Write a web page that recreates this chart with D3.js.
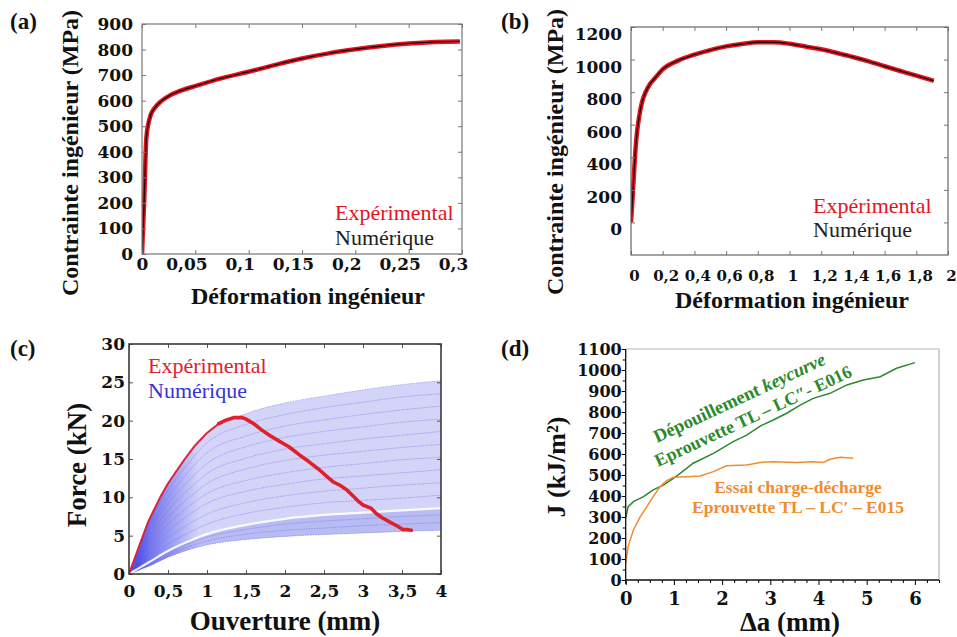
<!DOCTYPE html>
<html><head><meta charset="utf-8">
<script src="https://cdn.jsdelivr.net/npm/d3@7"></script>
<style>body{margin:0;background:#fff}svg{display:block}</style>
</head><body>
<script>
// ---------- Panel (a) ----------
const aStrain  = [0, 0.002, 0.004, 0.006, 0.008, 0.012, 0.018, 0.025, 0.035, 0.05, 0.075, 0.1, 0.125, 0.15, 0.175, 0.2, 0.225, 0.25, 0.275, 0.298];
const aStressExp = [0, 200, 450, 510, 542, 572, 598, 618, 637, 657, 688, 713, 740, 765, 785, 801, 814, 824, 830, 832];
const aStressNum = [0, 200, 450, 510, 542, 572, 598, 618, 637, 657, 688, 713, 740, 765, 785, 801, 814, 824, 830, 832];
const aXTicks = [0, 0.05, 0.1, 0.15, 0.2, 0.25, 0.3];
const aXLabels = ["0", "0,05", "0,1", "0,15", "0,2", "0,25", "0,3"];
const aYTicks = [0, 100, 200, 300, 400, 500, 600, 700, 800, 900];
const aYLabels = ["0", "100", "200", "300", "400", "500", "600", "700", "800", "900"];

// ---------- Panel (b) ----------
const bStrain = [0, 0.01, 0.02, 0.03, 0.04, 0.055, 0.07, 0.09, 0.12, 0.15, 0.2, 0.3, 0.4, 0.5, 0.6, 0.7, 0.8, 0.9, 1.0, 1.1, 1.2, 1.3, 1.4, 1.5, 1.6, 1.7, 1.8, 1.91];
const bStressExp = [0, 150, 320, 470, 570, 670, 740, 795, 850, 885, 940, 995, 1030, 1058, 1081, 1096, 1106, 1106, 1097, 1080, 1063, 1040, 1016, 989, 959, 930, 901, 870];
const bStressNum = [0, 150, 320, 470, 570, 670, 740, 795, 850, 885, 940, 995, 1030, 1058, 1081, 1096, 1106, 1106, 1097, 1080, 1063, 1040, 1016, 989, 959, 930, 901, 870];
const bXTicks = [0, 0.2, 0.4, 0.6, 0.8, 1, 1.2, 1.4, 1.6, 1.8, 2];
const bXLabels = ["0", "0,2", "0,4", "0,6", "0,8", "1", "1,2", "1,4", "1,6", "1,8", "2"];
const bYTicks = [0, 200, 400, 600, 800, 1000, 1200];
const bYLabels = ["0", "200", "400", "600", "800", "1000", "1200"];

// ---------- Panel (c) ----------
const cExpX = [0, 0.1, 0.18, 0.25, 0.4, 0.5, 0.6, 0.715, 0.85, 1.0, 1.15, 1.25, 1.35, 1.45, 1.5, 1.6, 1.7, 1.8, 1.93, 2.05, 2.19, 2.3, 2.44, 2.55, 2.62, 2.7, 2.79, 2.87, 2.95, 3.0, 3.1, 3.17, 3.25, 3.34, 3.45, 3.51, 3.56, 3.62];
const cExpF = [0, 2.8, 5.0, 6.9, 10.0, 11.8, 13.3, 15.0, 16.8, 18.4, 19.6, 20.1, 20.4, 20.4, 20.2, 19.6, 18.8, 18.1, 17.3, 16.6, 15.5, 14.7, 13.6, 12.6, 12.0, 11.6, 11.0, 10.2, 9.4, 9.0, 8.6, 7.9, 7.3, 6.8, 6.2, 5.8, 5.8, 5.7];
const cNumX = [0, 0.1, 0.25, 0.5, 0.75, 1, 1.5, 2, 2.5, 3, 3.5, 4];
const cNumCurves = [
  [0, 2.8, 6.9, 11.8, 15.4, 18.4, 20.9, 22.3, 23.2, 24.0, 24.7, 25.2],
  [0, 2.6, 6.4, 10.9, 14.3, 17.1, 19.5, 20.8, 21.7, 22.4, 23.1, 23.5],
  [0, 2.4, 5.8, 10.0, 13.2, 15.8, 18.0, 19.3, 20.1, 20.8, 21.4, 21.9],
  [0, 2.1, 5.3, 9.2, 12.0, 14.4, 16.6, 17.8, 18.6, 19.2, 19.8, 20.2],
  [0, 1.9, 4.7, 8.3, 10.9, 13.1, 15.1, 16.3, 17.0, 17.6, 18.1, 18.6],
  [0, 1.7, 4.2, 7.4, 9.8, 11.8, 13.7, 14.8, 15.5, 16.0, 16.5, 16.9],
  [0, 1.5, 3.7, 6.5, 8.7, 10.5, 12.2, 13.2, 13.9, 14.4, 14.9, 15.2],
  [0, 1.3, 3.1, 5.6, 7.6, 9.2, 10.8, 11.7, 12.4, 12.8, 13.2, 13.6],
  [0, 1.0, 2.6, 4.8, 6.4, 7.8, 9.3, 10.2, 10.8, 11.2, 11.6, 11.9],
  [0, 0.8, 2.0, 3.9, 5.3, 6.5, 7.9, 8.7, 9.3, 9.6, 9.9, 10.3],
  [0, 0.5, 1.35, 2.8, 3.9, 4.8, 5.8, 6.5, 6.9, 7.2, 7.5, 7.7],
  [0, 0.5, 1.2, 2.5, 3.5, 4.3, 5.2, 5.7, 6.0, 6.3, 6.5, 6.7],
  [0, 0.4, 1.0, 2.2, 3.1, 3.8, 4.5, 4.9, 5.15, 5.35, 5.55, 5.7]
];
const cGapF = [0, 0.6, 1.5, 3.0, 4.2, 5.2, 6.4, 7.2, 7.7, 8.0, 8.3, 8.6];
const cXTicks = [0, 0.5, 1, 1.5, 2, 2.5, 3, 3.5, 4];
const cXLabels = ["0", "0,5", "1", "1,5", "2", "2,5", "3", "3,5", "4"];
const cYTicks = [0, 5, 10, 15, 20, 25, 30];
const cYLabels = ["0", "5", "10", "15", "20", "25", "30"];

// ---------- Panel (d) ----------
const dKeyX = [0, 0.05, 0.16, 0.37, 0.57, 0.78, 0.99, 1.13, 1.4, 1.82, 2.23, 2.51, 2.79, 3.06, 3.34, 3.62, 3.89, 4.24, 4.59, 4.93, 5.28, 5.62, 6.0];
const dKeyJ = [294, 349, 373, 397, 429, 452, 484, 508, 556, 603, 659, 690, 733, 762, 794, 833, 865, 889, 929, 952, 968, 1008, 1035];
const dLoadX = [0, 0.05, 0.16, 0.3, 0.44, 0.57, 0.71, 0.85, 0.99, 1.27, 1.54, 1.82, 2.09, 2.51, 2.79, 3.06, 3.55, 3.89, 4.1, 4.24, 4.45, 4.72];
const dLoadJ = [79, 159, 238, 301, 349, 397, 444, 473, 489, 492, 495, 516, 544, 548, 560, 563, 560, 563, 560, 575, 584, 580];
const dXTicks = [0, 1, 2, 3, 4, 5, 6];
const dXLabels = ["0", "1", "2", "3", "4", "5", "6"];
const dXMinor = [0.25, 0.5, 0.75, 1.25, 1.5, 1.75, 2.25, 2.5, 2.75, 3.25, 3.5, 3.75, 4.25, 4.5, 4.75, 5.25, 5.5, 5.75, 6.25, 6.5];
const dYTicks = [0, 100, 200, 300, 400, 500, 600, 700, 800, 900, 1000, 1100];
const dYLabels = ["0", "100", "200", "300", "400", "500", "600", "700", "800", "900", "1000", "1100"];
const dYMinor = [50, 150, 250, 350, 450, 550, 650, 750, 850, 950, 1050];

// ================= drawing =================
const TF = "'Liberation Serif','Times New Roman',serif";
const NF = "'DejaVu Serif',serif";
const svg = d3.select("body").append("svg").attr("width", 957).attr("height", 637);
const defs = svg.append("defs");

function makePanel(o) {
  const x = d3.scaleLinear().domain(o.xd).range([o.l, o.r]);
  const y = d3.scaleLinear().domain(o.yd).range([o.b, o.t]);
  const g = svg.append("g");
  g.append("clipPath").attr("id", "clip" + o.id).append("rect")
    .attr("x", o.l).attr("y", o.t).attr("width", o.r - o.l).attr("height", o.b - o.t);
  const plot = g.append("g").attr("clip-path", `url(#clip${o.id})`);
  return {x, y, g, plot, o};
}

function styleText(sel, size, weight, family) {
  sel.selectAll("text").attr("font-family", family).attr("font-size", size)
    .attr("font-weight", weight).attr("fill", "#111");
}

function frameAxes(P, s) {
  const {x, y, g, o} = P;
  const tl = s.tickLen;
  const clean = sel => { sel.select(".domain").remove(); sel.selectAll(".tick line").attr("stroke", s.tickColor).attr("stroke-width", 1); };
  const bot = g.append("g").attr("transform", `translate(0,${o.b})`)
    .call(d3.axisBottom(x).tickValues(s.xt).tickSizeInner(-tl).tickSizeOuter(0).tickPadding(s.xPad).tickFormat((d, i) => s.xl[i]));
  clean(bot); styleText(bot, s.xNumSize || s.numSize, "bold", NF);
  if (s.xdx) bot.selectAll("text").attr("dx", (d, i) => s.xdx(d, i));
  const top = g.append("g").attr("transform", `translate(0,${o.t})`)
    .call(d3.axisTop(x).tickValues(s.xt).tickSizeInner(-tl).tickSizeOuter(0).tickFormat(""));
  clean(top);
  const left = g.append("g").attr("transform", `translate(${o.l},0)`)
    .call(d3.axisLeft(y).tickValues(s.yt).tickSizeInner(-tl).tickSizeOuter(0).tickPadding(s.yPad).tickFormat((d, i) => s.yl[i]));
  clean(left); styleText(left, s.numSize, "bold", NF);
  if (s.ydy) left.selectAll("text").attr("transform", `translate(0,${s.ydy})`);
  const right = g.append("g").attr("transform", `translate(${o.r},0)`)
    .call(d3.axisRight(y).tickValues(s.yt).tickSizeInner(-tl).tickSizeOuter(0).tickFormat(""));
  clean(right);
  g.append("rect").attr("x", o.l).attr("y", o.t).attr("width", o.r - o.l).attr("height", o.b - o.t)
    .attr("fill", "none").attr("stroke", s.frameColor).attr("stroke-width", s.frameWidth);
}

function label(txt, x, y, size, opts = {}) {
  const t = svg.append("text").attr("x", x).attr("y", y).text(txt)
    .attr("font-family", opts.family || TF).attr("font-size", size)
    .attr("font-weight", opts.weight || "bold").attr("fill", opts.fill || "#111")
    .attr("text-anchor", opts.anchor || "start");
  if (opts.rotate) t.attr("transform", `rotate(${opts.rotate},${x},${y})`);
  return t;
}

const RED = "#e3141d";

// ---------- (a) ----------
{
  const P = makePanel({id: "a", l: 142, r: 462, t: 24, b: 254, xd: [0, 0.3], yd: [0, 900]});
  const line = d3.line().x((d, i) => P.x(aStrain[i])).y(d => P.y(d)).curve(d3.curveMonotoneX);
  P.plot.append("path").attr("d", line(aStressExp)).attr("fill", "none").attr("stroke", RED).attr("stroke-width", 4.5);
  P.plot.append("path").attr("d", line(aStressNum)).attr("fill", "none").attr("stroke", "#2a0a0a").attr("stroke-width", 1.4);
  frameAxes(P, {xt: aXTicks, xl: aXLabels, yt: aYTicks, yl: aYLabels, tickLen: 4, tickColor: "#777",
    frameColor: "#777", frameWidth: 1.2, xPad: 4, yPad: 9, numSize: 17, xdx: d => d === 0 ? 0 : -9});
  label("(a)", 10, 29, 23);
  label("Déformation ingénieur", 308, 304, 24, {anchor: "middle"});
  label("Contrainte ingénieur (MPa)", 78, 153, 24, {anchor: "middle", rotate: -90});
  label("Expérimental", 335, 220, 22, {weight: "normal", fill: RED});
  label("Numérique", 335, 245, 22, {weight: "normal", fill: "#222"});
}

// ---------- (b) ----------
{
  const P = makePanel({id: "b", l: 631, r: 948, t: 27, b: 255, xd: [0, 2], yd: [-200, 1200]});
  const line = d3.line().x((d, i) => P.x(bStrain[i])).y(d => P.y(d)).curve(d3.curveMonotoneX);
  P.plot.append("path").attr("d", line(bStressExp)).attr("fill", "none").attr("stroke", RED).attr("stroke-width", 4.5);
  P.plot.append("path").attr("d", line(bStressNum)).attr("fill", "none").attr("stroke", "#2a0a0a").attr("stroke-width", 1.4);
  frameAxes(P, {xt: bXTicks, xl: bXLabels, yt: bYTicks, yl: bYLabels, tickLen: 4, tickColor: "#777",
    frameColor: "#666", frameWidth: 1.2, xPad: 15, yPad: 9, numSize: 17, xNumSize: 15, ydy: 7, xdx: d => 3});
  label("(b)", 501, 29, 23);
  label("Déformation ingénieur", 792, 308, 24, {anchor: "middle"});
  label("Contrainte ingénieur (MPa)", 563, 152, 24, {anchor: "middle", rotate: -90});
  label("Expérimental", 813, 213, 22, {weight: "normal", fill: RED});
  label("Numérique", 813, 237, 22, {weight: "normal", fill: "#222"});
}

// ---------- (c) ----------
{
  const P = makePanel({id: "c", l: 129, r: 441, t: 344, b: 574, xd: [0, 4], yd: [0, 30]});
  const grad = (id, end) => {
    const lg = defs.append("linearGradient").attr("id", id).attr("gradientUnits", "userSpaceOnUse")
      .attr("x1", P.x(0)).attr("y1", 0).attr("x2", P.x(0.9)).attr("y2", 0);
    lg.append("stop").attr("offset", 0).attr("stop-color", "#2f2fe8");
    lg.append("stop").attr("offset", 0.3).attr("stop-color", "#7476ee");
    lg.append("stop").attr("offset", 1).attr("stop-color", end);
  };
  grad("fanUp", "#d3d4f7");
  grad("fanLow", "#b9bbf3");
  const line = d3.line().x((d, i) => P.x(cNumX[i])).y(d => P.y(d)).curve(d3.curveMonotoneX);
  const top = cNumCurves[0], bottom = cNumCurves[cNumCurves.length - 1];
  const area = d3.area().x((d, i) => P.x(cNumX[i])).y0((d, i) => P.y(bottom[i])).y1(d => P.y(d)).curve(d3.curveMonotoneX);
  P.plot.append("path").attr("d", area(top)).attr("fill", "url(#fanUp)");
  P.plot.append("path").attr("d", area(cGapF)).attr("fill", "url(#fanLow)");
  cNumCurves.forEach(c => {
    P.plot.append("path").attr("d", line(c)).attr("fill", "none").attr("stroke", "#6c6eee")
      .attr("stroke-width", 0.9).attr("stroke-opacity", 0.55).attr("stroke-dasharray", "1.6,1");
  });
  P.plot.append("path").attr("d", line(cGapF)).attr("fill", "none").attr("stroke", "#fff").attr("stroke-width", 2.2).attr("stroke-opacity", 0.9);
  const pts = cExpX.map((v, i) => [v, cExpF[i]]);
  const eline = d3.line().x(d => P.x(d[0])).y(d => P.y(d[1])).curve(d3.curveLinear);
  // rising branch (thin, overlapping the numerical envelope) and post-peak branch (thick)
  P.plot.append("path").attr("d", eline(pts)).attr("fill", "none").attr("stroke", "#d8243c").attr("stroke-width", 2).attr("stroke-linejoin", "round");
  P.plot.append("path").attr("d", eline(pts.filter(d => d[0] >= 1.15))).attr("fill", "none").attr("stroke", "#e0202a").attr("stroke-width", 3.6).attr("stroke-linejoin", "round").attr("stroke-linecap", "round");
  frameAxes(P, {xt: cXTicks, xl: cXLabels, yt: cYTicks, yl: cYLabels, tickLen: 4, tickColor: "#555",
    frameColor: "#3a3a3a", frameWidth: 1.6, xPad: 11, yPad: 4, numSize: 17});
  label("(c)", 10, 356, 23);
  label("Ouverture (mm)", 285, 630, 27, {anchor: "middle"});
  label("Force (kN)", 86, 465, 27, {anchor: "middle", rotate: -90});
  label("Expérimental", 148, 373, 22, {weight: "normal", fill: "#e0202a"});
  label("Numérique", 148, 398, 22, {weight: "normal", fill: "#3434dc"});
}

// ---------- (d) ----------
{
  const P = makePanel({id: "d", l: 625.7, r: 939, t: 349, b: 580, xd: [0, 6.5], yd: [0, 1100]});
  const {x, y, g} = P;
  g.append("path").attr("d", `M${x(0)},${y(1100)}H${x(6.5)}V${y(0)}`).attr("fill", "none").attr("stroke", "#b5b5b5").attr("stroke-width", 1.2);
  const gl = d3.line().x((d, i) => x(dKeyX[i])).y(d => y(d));
  P.plot.append("path").attr("d", gl(dKeyJ)).attr("fill", "none").attr("stroke", "#2a8a2a").attr("stroke-width", 1.5);
  const ol = d3.line().x((d, i) => x(dLoadX[i])).y(d => y(d));
  P.plot.append("path").attr("d", ol(dLoadJ)).attr("fill", "none").attr("stroke", "#f08c30").attr("stroke-width", 1.5);
  const bot = g.append("g").attr("transform", `translate(0,${y(0)})`)
    .call(d3.axisBottom(x).tickValues(dXTicks).tickSizeInner(5).tickSizeOuter(0).tickPadding(7).tickFormat((d, i) => dXLabels[i]));
  bot.select(".domain").attr("d", `M${x(0)},0H${x(6.5)}`).attr("stroke", "#111").attr("stroke-width", 1.3);
  styleText(bot, 18, "bold", NF);
  const botm = g.append("g").attr("transform", `translate(0,${y(0)})`)
    .call(d3.axisBottom(x).tickValues(dXMinor).tickSizeInner(3).tickSizeOuter(0).tickFormat(""));
  botm.select(".domain").remove();
  const left = g.append("g").attr("transform", `translate(${x(0)},0)`)
    .call(d3.axisLeft(y).tickValues(dYTicks).tickSizeInner(4).tickSizeOuter(0).tickPadding(0).tickFormat((d, i) => dYLabels[i]));
  left.select(".domain").attr("d", `M0,${y(0) + 4}V${y(1100)}`).attr("stroke", "#111").attr("stroke-width", 1.3);
  styleText(left, 16, "bold", NF);
  const leftm = g.append("g").attr("transform", `translate(${x(0)},0)`)
    .call(d3.axisLeft(y).tickValues(dYMinor).tickSizeInner(3).tickSizeOuter(0).tickFormat(""));
  leftm.select(".domain").remove();
  label("(d)", 501, 356, 23);
  label("Δa (mm)", 790, 631, 27, {anchor: "middle"});
  label("J (kJ/m²)", 565, 467, 26, {anchor: "middle", rotate: -90});
  const t1 = svg.append("text").attr("x", 657).attr("y", 443).attr("transform", "rotate(-25,657,443)")
    .attr("font-family", TF).attr("font-size", 18.5).attr("font-weight", "bold").attr("fill", "#2a8a2a");
  t1.append("tspan").text("Dépouillement ");
  t1.append("tspan").attr("font-style", "italic").text("keycurve");
  label("Eprouvette TL – LC″- E016", 658, 467, 18, {fill: "#2a8a2a", rotate: -25});
  label("Essai charge-décharge", 798, 493, 17.5, {fill: "#f08c30", anchor: "middle"});
  label("Eprouvette TL – LC′ – E015", 798, 513, 17.5, {fill: "#f08c30", anchor: "middle"});
}
</script>
</body></html>
